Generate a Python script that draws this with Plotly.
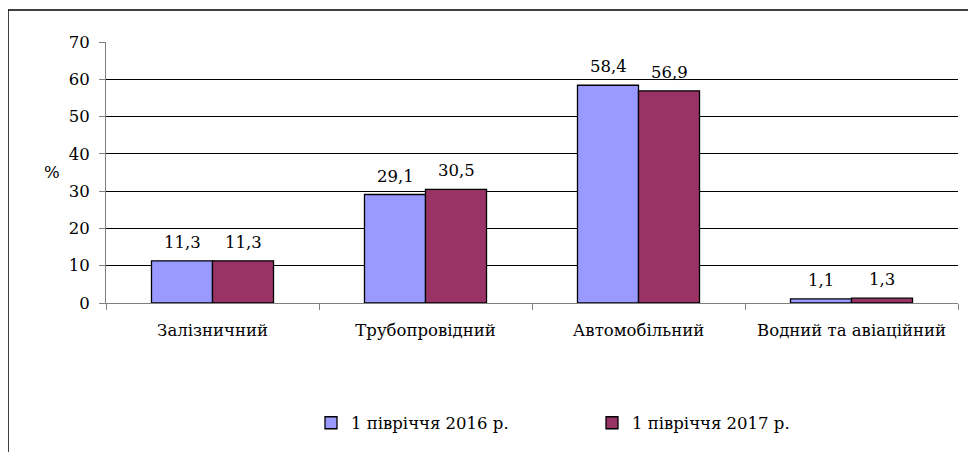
import plotly.graph_objects as go

categories = ["Залізничний", "Трубопровідний", "Автомобільний", "Водний та авіаційний"]
values_2016 = [11.3, 29.1, 58.4, 1.1]
values_2017 = [11.3, 30.5, 56.9, 1.3]
series_names = ["1 півріччя 2016 р.", "1 півріччя 2017 р."]
y_ticks = [0, 10, 20, 30, 40, 50, 60, 70]

FONT = "DejaVu Serif"
FS = 16.5

L, T, R, B = 98, 34, 26, 157
PW, PH = 976 - L - R, 452 - T - B

fig = go.Figure()
fig.add_trace(go.Bar(
    x=categories, y=values_2016, name=series_names[0],
    marker=dict(color="#9999FF", line=dict(color="black", width=1.3)),
))
fig.add_trace(go.Bar(
    x=categories, y=values_2017, name=series_names[1],
    marker=dict(color="#993366", line=dict(color="black", width=1.3)),
))

def fmt(v):
    return f"{v:.1f}".replace(".", ",")

annotations = []
for vals, dx in ((values_2016, -30.5), (values_2017, 30.5)):
    for c, v in zip(categories, vals):
        annotations.append(dict(
            x=c, y=v, xref="x", yref="y", text=fmt(v), showarrow=False,
            xshift=dx, yanchor="bottom", yshift=7,
            font=dict(family=FONT, size=FS, color="black"),
        ))
annotations.append(dict(
    text="%", xref="paper", yref="paper",
    x=(42 - 106) / PW, y=(303 - 172) / PH,
    showarrow=False, font=dict(family=FONT, size=FS, color="black"),
))

fig.update_layout(
    width=976, height=452,
    margin=dict(l=L, r=R, t=T, b=B, autoexpand=False),
    paper_bgcolor="white", plot_bgcolor="white",
    separators=", ",
    font=dict(family=FONT, size=FS, color="black"),
    barmode="group", bargap=0.427, bargroupgap=0,
    showlegend=True,
    legend=dict(
        orientation="h", x=(311 - 106) / PW, xanchor="left",
        y=-(423 - 303) / PH, yanchor="middle",
        entrywidth=236, entrywidthmode="pixels",
        font=dict(family=FONT, size=FS, color="black"),
        itemwidth=30,
    ),
    xaxis=dict(
        showgrid=False, showline=True, linecolor="#808080", linewidth=1,
        ticks="outside", tickson="boundaries", ticklen=6, tickcolor="#808080",
        tickfont=dict(family=FONT, size=FS, color="black"),
        tickangle=0,
        ticklabelstandoff=12,
    ),
    yaxis=dict(
        range=[0, 70], tickvals=y_ticks, showgrid=True, gridcolor="black", gridwidth=1,
        showline=True, linecolor="#808080", linewidth=1,
        ticks="outside", ticklen=6, tickcolor="#808080",
        tickfont=dict(family=FONT, size=FS, color="black"),
        ticklabelstandoff=6,
        zeroline=False,
    ),
    annotations=annotations,
    shapes=[
        dict(type="line", xref="paper", yref="paper",
             x0=(8 - 106) / PW, x1=(990 - 106) / PW,
             y0=(303 - 10) / PH, y1=(303 - 10) / PH,
             line=dict(color="black", width=1.5)),
        dict(type="line", xref="paper", yref="paper",
             x0=(8 - 106) / PW, x1=(8 - 106) / PW,
             y0=(303 - 10) / PH, y1=(303 - 470) / PH,
             line=dict(color="black", width=1.5)),
    ],
)

fig.write_html("out.html")
